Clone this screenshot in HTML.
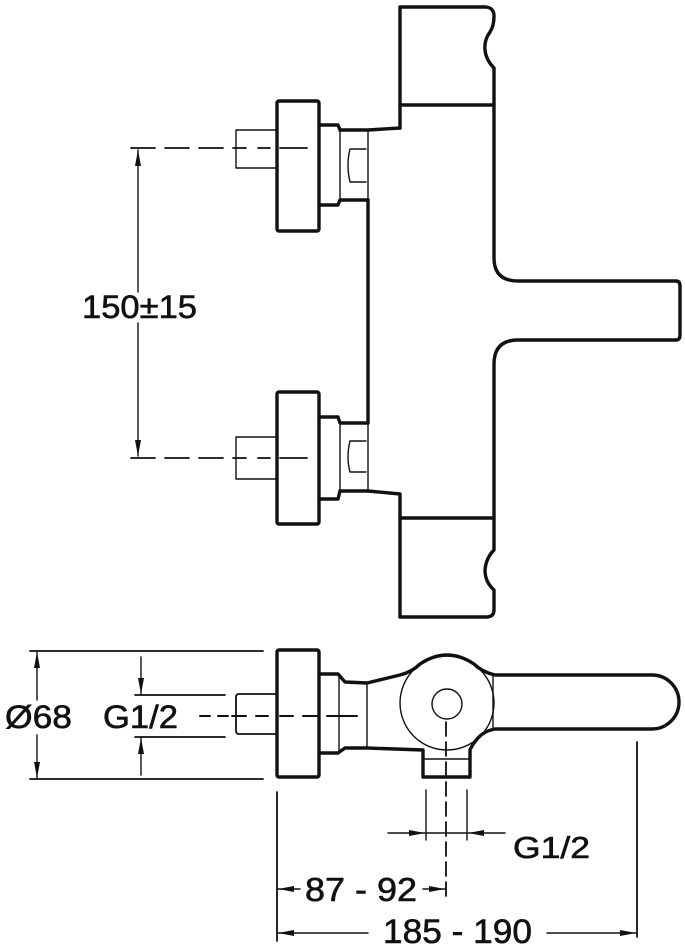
<!DOCTYPE html>
<html><head><meta charset="utf-8"><style>
html,body{margin:0;padding:0;background:#fff;}
svg{display:block;}
text{font-family:"Liberation Sans",Arial,sans-serif;fill:#111;}
</style></head><body>
<svg width="685" height="950" viewBox="0 0 685 950" xmlns="http://www.w3.org/2000/svg">
<defs>
<marker id="a" viewBox="0 0 16 7" refX="16" refY="3.5" markerWidth="16" markerHeight="7" markerUnits="userSpaceOnUse" orient="auto-start-reverse"><path d="M0,0.5 L16,3.5 L0,6.5 Z" fill="#111"/></marker>
</defs>
<g fill="none" stroke="#111" stroke-linejoin="round" stroke-linecap="round">
<path stroke-width="3.4" d="M400,128 L400,7 L486,7 Q494,8 494,16 Q494,26 490,32 Q484,40 485,50 Q486,60 494,68 L494,258 Q494,281 518,281 L676,281 Q680,281 680,286 L680,335 Q680,340 676,340 L518,340 Q494,340 494,364 L494,550 Q486,558 485,570 Q485,582 494,590 L494,610 Q494,617 486,617 L400,617 L400,494 L368,491 L340,491"/>
<path stroke-width="3.4" d="M400,128 L368,130 L340,130"/>
<line stroke-width="3.4" x1="400" y1="105" x2="494" y2="105"/>
<line stroke-width="3.4" x1="400" y1="518" x2="494" y2="518"/>
<line stroke-width="3.4" x1="368" y1="200" x2="368" y2="423"/>
<rect stroke-width="3.4" x="277" y="101" width="42" height="130" rx="2"/>
<path stroke-width="3.4" d="M319,125 L338,125 L340,130 M319,205 L338,205 L340,200 L368,200"/>
<line stroke-width="1.4" x1="340" y1="130" x2="340" y2="200"/>
<line stroke-width="1.4" x1="368" y1="130" x2="368" y2="200"/>
<path stroke-width="1.4" d="M366,149 L350,149 Q346,165 350,182 L366,182"/>
<path stroke-width="1.4" d="M276,130 L236,130 L236,168 L276,168"/>
<path stroke-width="1.8" stroke-dasharray="24,10" d="M131,148 L236,148"/>
<path stroke-width="1.8" d="M236,148 L246,148 M258,148 L270,148 M280,148 L307,148"/>
<rect stroke-width="3.4" x="277" y="392" width="42" height="132" rx="2"/>
<path stroke-width="3.4" d="M319,417 L338,417 L340,423 L368,423 M319,499 L338,499 L340,491"/>
<line stroke-width="1.4" x1="340" y1="423" x2="340" y2="491"/>
<line stroke-width="1.4" x1="368" y1="423" x2="368" y2="491"/>
<path stroke-width="1.4" d="M366,441 L350,441 Q346,457 350,472 L366,472"/>
<path stroke-width="1.4" d="M276,437 L236,437 L236,479 L276,479"/>
<path stroke-width="1.8" stroke-dasharray="24,10" d="M131,458 L236,458"/>
<path stroke-width="1.8" d="M236,458 L246,458 M258,458 L270,458 M280,458 L307,458"/>
<line stroke-width="1.4" x1="138" y1="150" x2="138" y2="292" marker-start="url(#a)"/>
<line stroke-width="1.4" x1="138" y1="323" x2="138" y2="456" marker-end="url(#a)"/>

<line stroke-width="1.8" x1="30" y1="651" x2="263" y2="651"/>
<line stroke-width="1.8" x1="30" y1="779" x2="263" y2="779"/>
<line stroke-width="1.4" x1="37" y1="652" x2="37" y2="700" marker-start="url(#a)"/>
<line stroke-width="1.4" x1="37" y1="735" x2="37" y2="778" marker-end="url(#a)"/>
<line stroke-width="1.8" x1="135" y1="695" x2="225" y2="695"/>
<line stroke-width="1.8" x1="135" y1="737" x2="225" y2="737"/>
<line stroke-width="1.4" x1="141" y1="657" x2="141" y2="694" marker-end="url(#a)"/>
<line stroke-width="1.4" x1="141" y1="775" x2="141" y2="738" marker-end="url(#a)"/>
<path stroke-width="1.8" d="M276,694 L239,694 Q236,694 236,697 L236,731 Q236,734 239,734 L276,734"/>
<path stroke-width="2" stroke-dasharray="10,8" d="M200,716 L232,716"/>
<path stroke-width="2" d="M232,716 L246,716 M256,716 L268,716 M280,716 L293,716 M303,716 L317,716 M327,716 L357,716"/>
<rect stroke-width="3.4" x="277" y="650" width="42" height="127" rx="2"/>
<path stroke-width="3.4" d="M319,674 L338,674 L345,682 L367,683 L400,675 Q412,672 420,664 Q447,646 474,664 Q482,672 495,675 L652,675 A27,27 0 0 1 652,729 L495,729 Q484,731 478,738 Q472,745 470,750 L470,777 L423,777 L423,750 L367,748 L345,748 L338,753 L319,753"/>
<line stroke-width="1.4" x1="339" y1="675" x2="339" y2="752"/>
<line stroke-width="1.4" x1="367" y1="683" x2="367" y2="748"/>
<line stroke-width="1.4" x1="493" y1="676" x2="493" y2="728"/>
<circle stroke-width="1.4" cx="447" cy="703" r="47"/>
<circle stroke-width="1.4" cx="447" cy="704" r="15"/>
<line stroke-width="1.4" x1="424" y1="759" x2="469" y2="759"/>
<path stroke-width="1.8" stroke-dasharray="14,6" d="M446,722 L446,898"/>
<line stroke-width="1.4" x1="426" y1="790" x2="426" y2="840"/>
<line stroke-width="1.4" x1="467" y1="790" x2="467" y2="840"/>
<line stroke-width="1.4" x1="388" y1="833" x2="425" y2="833" marker-end="url(#a)"/>
<line stroke-width="1.4" x1="505" y1="833" x2="468" y2="833" marker-end="url(#a)"/>
<line stroke-width="1.4" x1="426" y1="833" x2="467" y2="833"/>
<line stroke-width="1.8" x1="277" y1="792" x2="277" y2="941"/>
<line stroke-width="1.8" x1="637" y1="742" x2="637" y2="937"/>
<line stroke-width="1.4" x1="300" y1="889" x2="278" y2="889" marker-end="url(#a)"/>
<line stroke-width="1.4" x1="423" y1="889" x2="445" y2="889" marker-end="url(#a)"/>
<line stroke-width="1.4" x1="368" y1="933" x2="278" y2="933" marker-end="url(#a)"/>
<line stroke-width="1.4" x1="547" y1="933" x2="636" y2="933" marker-end="url(#a)"/>
</g>
<g stroke="#111" stroke-width="0.6">
<text x="82" y="318" font-size="32" textLength="115" lengthAdjust="spacingAndGlyphs">150±15</text>
<text x="5" y="728" font-size="32" textLength="67" lengthAdjust="spacingAndGlyphs">Ø68</text>
<text x="103" y="728" font-size="32" textLength="75" lengthAdjust="spacingAndGlyphs">G1/2</text>
<text x="513" y="858" font-size="31" textLength="77" lengthAdjust="spacingAndGlyphs">G1/2</text>
<text x="305" y="901" font-size="33" textLength="112" lengthAdjust="spacingAndGlyphs">87 - 92</text>
<text x="383" y="943" font-size="34" textLength="149" lengthAdjust="spacingAndGlyphs">185 - 190</text>
</g>
</svg>
</body></html>
